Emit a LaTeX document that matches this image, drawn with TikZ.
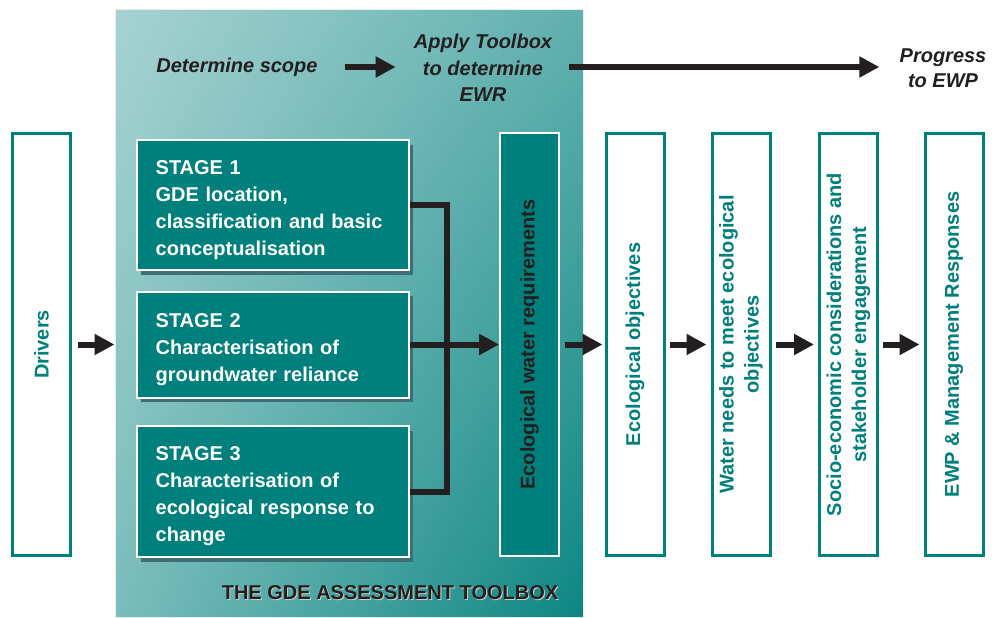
\documentclass[tikz,border=0pt]{standalone}
\usepackage{fontspec}
\setmainfont{Liberation Sans}
\usetikzlibrary{arrows.meta,shadows,shadings}
\definecolor{gdeteal}{HTML}{00807C}
\definecolor{gdeink}{HTML}{231F20}
\definecolor{gdeshadow}{HTML}{3E6F75}
\begin{document}
\begin{tikzpicture}[x=0.75pt,y=-0.75pt,font=\bfseries\fontsize{15}{18.75}\selectfont,
    side/.style={draw=gdeteal,line width=2.25pt,fill=white,text=gdeteal,rotate=90,align=center,minimum width=316pt,minimum height=43.5pt},
    stage/.style={draw=white,line width=1.5pt,fill=gdeteal,text=white,align=left,text width=176pt,inner xsep=14pt,minimum height=#1,
        font=\bfseries\fontsize{15}{20.25}\selectfont,execute at begin node={\rule{0pt}{18pt}},
        drop shadow={shadow xshift=3pt,shadow yshift=-3.5pt,fill=gdeshadow,opacity=1}},
    arr/.style={gdeink,line width=4.5pt,-{Triangle[length=15pt,width=15pt]}},
    hint/.style={text=gdeink,font=\bfseries\itshape\fontsize{15}{20}\selectfont,align=center,inner sep=0pt}]
    \useasboundingbox (0,0) rectangle (994,617);

    \node[minimum width=351pt,minimum height=455.25pt,draw=white!85!gray,line width=0.75pt,
        upper left=gdeteal!35!white,upper right=gdeteal!62!white,lower left=gdeteal!52!white,lower right=gdeteal!95!white] (tb) at (349,313.5) {};
    \node[text=gray!40,font=\bfseries\fontsize{15}{18}\selectfont] (tbs) at (391,594) {THE GDE ASSESSMENT TOOLBOX};
    \node[text=gdeink,font=\bfseries\fontsize{15}{18}\selectfont] (tbl) at (390,593) {THE GDE ASSESSMENT TOOLBOX};

    \node[side] (drv) at (41.5,344.5) {Drivers};
    \node[stage=97.5pt] (s1) at (273,205) {STAGE 1\\GDE location,\\classification and basic\\conceptualisation};
    \node[stage=79.5pt] (s2) at (273,344.5) {STAGE 2\\Characterisation of\\groundwater reliance};
    \node[stage=98.25pt] (s3) at (273,491.5) {STAGE 3\\Characterisation of\\ecological response to\\change};
    \node[draw=white,line width=1.5pt,fill=gdeteal,text=gdeink,rotate=90,minimum width=317pt,minimum height=44pt] (ewr) at (529.5,344.5) {Ecological water requirements};
    \foreach [count=\i] \x/\t in {635/{Ecological objectives},741/{Water needs to meet ecological\\objectives},
        848.5/{Socio-economic considerations and\\stakeholder engagement},954/{EWP \& Management Responses}}
        \node[side] (b\i) at (\x,344.5) {\t};

    \node[hint] (scope) at (237,67) {Determine scope};
    \node[hint] (apply) at (483,68) {Apply Toolbox\\to determine\\EWR};
    \node[hint,font=\bfseries\itshape\fontsize{15}{18.75}\selectfont] (prog) at (943,68) {Progress\\to EWP};

    \coordinate (j) at (447,344.5);
    \draw[gdeink,line width=4.5pt] (s1) -| (j) |- (s3);
    \draw[arr] (s2) -- (ewr);
    \draw[arr,shorten <=4.5pt] (drv) -- (drv -| tb.west);
    \draw[arr,shorten <=3.5pt,shorten >=1.5pt] (ewr) -- (b1);
    \foreach \i [remember=\i as \last (initially 1)] in {2,3,4}
        \draw[arr,shorten <=3pt,shorten >=3pt] (b\last) -- (b\i);
    \draw[arr,shorten <=20pt,shorten >=13.5pt] (scope) -- (scope -| apply.west);
    \draw[arr,shorten <=12.75pt,shorten >=15pt] (apply.east |- scope) -- (scope -| prog.west);
\end{tikzpicture}
\end{document}
